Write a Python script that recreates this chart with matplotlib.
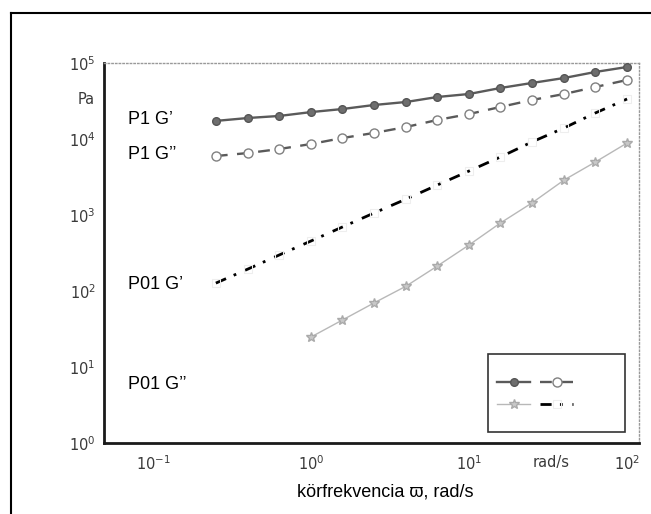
import numpy as np
import matplotlib; matplotlib.use("Agg")
import matplotlib.pyplot as plt
from matplotlib.lines import Line2D
from matplotlib.patches import Rectangle
plt.rcParams["axes.unicode_minus"] = False

# frekvencia (rad/s) és modulusok (Pa)
omega = [0.25, 0.4, 0.63, 1.0, 1.58, 2.5, 4.0, 6.3, 10, 15.8, 25, 40, 63, 100]
p1_g1 = [17300, 18900, 20100, 22600, 24800, 28000, 30700, 35700, 39100, 46900, 54600, 63500, 76200, 88600]
p1_g2 = [5970, 6540, 7380, 8590, 10300, 12000, 14400, 17800, 21300, 26400, 32600, 39100, 48300, 59800]
p01_g1 = [127, 195, 298, 455, 695, 1060, 1620, 2480, 3790, 5800, 9140, 14000, 22000, 33600]
omega_p01_g2 = [1.0, 1.58, 2.5, 4.0, 6.3, 10, 15.8, 25, 40, 63, 100]
p01_g2 = [24.8, 41.5, 69.5, 116, 213, 403, 785, 1440, 2890, 4980, 8860]
labels = ["P1 G\u2019", "P1 G\u2019\u2019", "P01 G\u2019", "P01 G\u2019\u2019"]
label_y = [0.85, 0.758, 0.416, 0.153]

W, H = 651, 514
fig = plt.figure(figsize=(W/100, H/100), dpi=100, facecolor="white")
ax = fig.add_axes([104/W, 1-443/H, (639-104)/W, (443-63)/H])

l1, = ax.plot(omega, p1_g1, "-o", color="#5a5a5a", lw=1.7, ms=5.5, mfc="#6e6e6e", mec="#555555", zorder=4)
l2, = ax.plot(omega, p1_g2, "--o", color="#5a5a5a", lw=1.7, ms=6.5, mfc="white", mec="#808080", dashes=(5, 4), zorder=4)
l3, = ax.plot(omega, p01_g1, color="black", lw=2, ls=(0, (4, 3, 1, 3.5)), marker="s", ms=5.5, mfc="none", mec="#eeeeee", mew=0.8, zorder=3)
l4, = ax.plot(omega_p01_g2, p01_g2, "-*", color="#b8b8b8", lw=1, ms=7, mfc="#c8c8c8", mec="#aaaaaa", zorder=3)

ax.set_xscale("log"); ax.set_yscale("log")
ax.set_xlim(0.049, 119); ax.set_ylim(1, 1e5)
ax.minorticks_off()
ax.tick_params(axis="both", length=0, labelsize=10.5, labelcolor="#3a3a3a")
ax.tick_params(axis="x", pad=8); ax.tick_params(axis="y", pad=6)
for s in ["left", "bottom"]: ax.spines[s].set_linewidth(2); ax.spines[s].set_color("#1a1a1a")
for s in ["top", "right"]: ax.spines[s].set_linewidth(1); ax.spines[s].set_linestyle(":"); ax.spines[s].set_color("#999999")

for t, y in zip(labels, label_y):
    ax.text(0.045, y, t, transform=ax.transAxes, ha="left", va="center", fontsize=13, family=["Liberation Sans", "DejaVu Sans"])

# jelmagyarázat (felirat nélkül, kerettel)
ax.add_patch(Rectangle((0.718, 0.029), 0.256, 0.205, transform=ax.transAxes, facecolor="white", edgecolor="#333333", lw=1.2, zorder=5))
leg = ax.legend([l1, l4, l2, l3], ["", "", "", ""], ncol=2, frameon=False, loc="upper left",
                bbox_to_anchor=((497-104)/535, (443-376)/380), handlelength=2.4, handletextpad=0,
                columnspacing=0.7, labelspacing=0.6, borderpad=0, borderaxespad=0, fontsize=10)
leg.set_zorder(6)

fig.text(95/W, 1-100/H, "Pa", ha="right", va="center", fontsize=10.5, color="#3a3a3a")
fig.text(551/W, 1-462/H, "rad/s", ha="center", va="center", fontsize=10.5, color="#3a3a3a")
fig.text(385/W, 1-492/H, "körfrekvencia \u03d6, rad/s", ha="center", va="center", fontsize=13,
         family=["Liberation Sans", "DejaVu Sans"])

# külső keret
fig.add_artist(Line2D([11/W, 1], [1-13/H, 1-13/H], transform=fig.transFigure, color="black", lw=1.5))
fig.add_artist(Line2D([11/W, 11/W], [0, 1-13/H], transform=fig.transFigure, color="black", lw=1.5))

fig.savefig("out.png", dpi=100, facecolor="white")
